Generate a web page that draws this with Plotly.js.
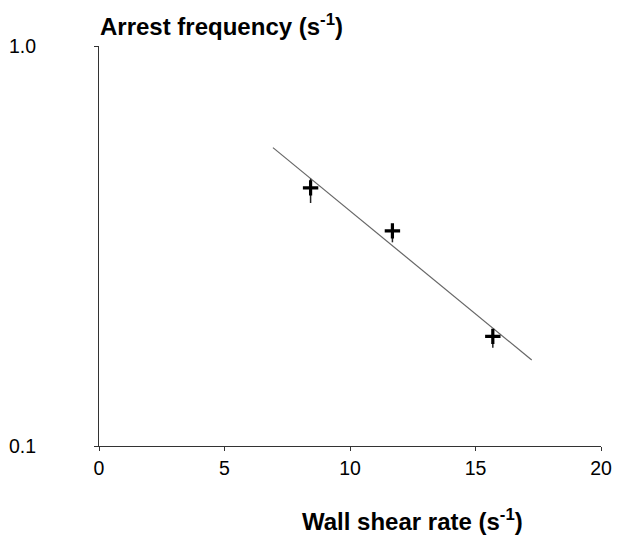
<!DOCTYPE html>
<html>
<head>
<meta charset="utf-8">
<script src="https://cdn.plot.ly/plotly-3.0.1.min.js"></script>
<style>html,body{margin:0;padding:0;background:#fff;}</style>
</head>
<body>
<div id="chart" style="width:621px;height:541px;"></div>
<script>
// Data
const shearRate = [8.43, 11.69, 15.69];
const arrestFreq = [0.442, 0.345, 0.188];
const errPlus = [0.024, 0.013, 0.007];
const errMinus = [0.037, 0.022, 0.012];
const fitX = [6.93, 17.24];
const fitY = [0.557, 0.164];
const xTicks = [0, 5, 10, 15, 20];
const yTicks = [0.1, 1];
const yTickText = ['0.1', '1.0'];

const font = 'Liberation Sans, Arial, sans-serif';

const traces = [
  {
    x: fitX, y: fitY, type: 'scatter', mode: 'lines',
    line: {color: '#666666', width: 1.2},
    hoverinfo: 'skip', showlegend: false
  },
  {
    x: shearRate, y: arrestFreq, type: 'scatter', mode: 'markers',
    marker: {symbol: 'cross-thin', size: 11, color: '#000', line: {color: '#000', width: 3.2}},
    error_y: {type: 'data', symmetric: false, array: errPlus, arrayminus: errMinus,
              color: '#222', thickness: 1.5, width: 0},
    showlegend: false
  }
];

const layout = {
  width: 621, height: 541,
  margin: {l: 99, r: 20, t: 46, b: 95},
  paper_bgcolor: '#fff', plot_bgcolor: '#fff',
  font: {family: font, size: 19, color: '#000'},
  showlegend: false,
  xaxis: {
    range: [0, 20], tickvals: xTicks, ticktext: xTicks.map(String),
    showline: true, linecolor: '#333', linewidth: 1,
    ticks: 'outside', ticklen: 4, tickcolor: '#333',
    showgrid: false, zeroline: false,
    tickfont: {family: font, size: 19.5, color: '#000'},
    ticklabelstandoff: 1
  },
  yaxis: {
    type: 'log', range: [-1, 0], tickvals: yTicks, ticktext: yTickText,
    showline: true, linecolor: '#333', linewidth: 1,
    ticks: 'outside', ticklen: 4, tickcolor: '#333',
    showgrid: false, zeroline: false,
    tickfont: {family: font, size: 19.5, color: '#000'},
    ticklabelstandoff: 54
  },
  annotations: [
    {
      text: '<b>Arrest frequency (s<sup>-1</sup>)</b>',
      xref: 'paper', yref: 'paper', x: 0, y: 1, xanchor: 'left', yanchor: 'bottom',
      xshift: -1, yshift: 4,
      showarrow: false, font: {family: font, size: 24, color: '#000'}
    },
    {
      text: '<b>Wall shear rate (s<sup>-1</sup>)</b>',
      xref: 'paper', yref: 'paper', x: 0.625, y: 0, xanchor: 'center', yanchor: 'top',
      yshift: -57,
      showarrow: false, font: {family: font, size: 24, color: '#000'}
    }
  ]
};

Plotly.newPlot('chart', traces, layout, {displayModeBar: false, staticPlot: true});
</script>
</body>
</html>
